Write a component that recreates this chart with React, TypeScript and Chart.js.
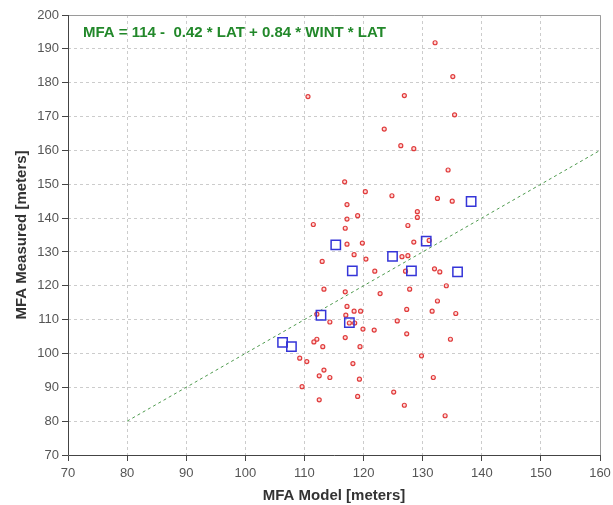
import React, { useEffect, useRef } from "react";
import { Chart, registerables } from "chart.js";

Chart.register(...registerables);

const redX = [132.1, 135.1, 110.6, 126.9, 135.4, 123.5, 126.3, 128.5, 134.3, 116.8, 120.3, 124.8, 132.5, 135.0, 117.2, 129.1, 129.1, 117.2, 119.0, 111.5, 127.5, 116.9, 117.2, 119.8, 128.5, 131.1, 118.4, 126.5, 127.5, 113.0, 120.4, 121.9, 127.1, 132.0, 132.9, 134.0, 113.3, 127.8, 116.9, 122.8, 132.5, 117.2, 127.3, 118.4, 119.5, 131.6, 135.6, 112.1, 117.0, 114.3, 117.6, 118.5, 125.7, 119.9, 121.8, 127.3, 116.9, 112.1, 111.6, 134.7, 113.1, 119.4, 129.8, 109.2, 110.4, 118.2, 113.3, 112.5, 114.3, 131.8, 119.3, 109.6, 125.1, 119.0, 112.5, 126.9, 133.8];
const redY = [191.8, 181.8, 175.9, 176.2, 170.5, 166.3, 161.4, 160.5, 154.2, 150.7, 147.8, 146.6, 145.8, 145.0, 144.0, 141.9, 140.2, 139.7, 140.7, 138.1, 137.8, 137.0, 132.3, 132.6, 132.9, 133.4, 129.2, 128.6, 128.9, 127.2, 127.9, 124.3, 124.3, 125.0, 124.1, 120.0, 119.0, 119.0, 118.2, 117.7, 115.5, 113.9, 113.0, 112.5, 112.5, 112.5, 111.8, 111.6, 111.3, 109.3, 109.0, 109.0, 109.6, 107.2, 106.9, 105.8, 104.7, 104.2, 103.4, 104.2, 102.0, 102.0, 99.3, 98.6, 97.6, 97.0, 95.1, 93.4, 92.9, 92.9, 92.4, 90.2, 88.6, 87.3, 86.3, 84.7, 81.6];

const blueX = [138.2, 130.6, 115.3, 124.9, 118.1, 128.1, 135.9, 112.8, 117.6, 106.3, 107.8];
const blueY = [144.9, 133.2, 132.1, 128.7, 124.4, 124.4, 124.1, 111.3, 109.1, 103.3, 102.0];

const lineX = [80, 160];
const lineY = [80, 160];

const equationText = "MFA = 114 -  0.42 * LAT + 0.84 * WINT * LAT";
const xTitle = "MFA Model [meters]";
const yTitle = "MFA Measured [meters]";

const FONT = "'Liberation Sans', Arial, sans-serif";

export default function App() {
  const ref = useRef<HTMLCanvasElement | null>(null);

  useEffect(() => {
    if (!ref.current) return;
    const framePlugin = {
      id: "frame",
      afterDraw(chart: any) {
        const { ctx, chartArea } = chart;
        const { left, right, top, bottom } = chartArea;
        ctx.save();
        ctx.setLineDash([]);
        ctx.lineWidth = 1;
        ctx.strokeStyle = "#9a9a9a";
        ctx.beginPath();
        ctx.moveTo(left, top + 0.5);
        ctx.lineTo(right + 0.5, top + 0.5);
        ctx.lineTo(right + 0.5, bottom);
        ctx.stroke();
        ctx.strokeStyle = "#444444";
        ctx.beginPath();
        ctx.moveTo(left + 0.5, top);
        ctx.lineTo(left + 0.5, bottom + 0.5);
        ctx.lineTo(right + 0.5, bottom + 0.5);
        ctx.stroke();
        ctx.fillStyle = "#22882a";
        ctx.font = `bold 15px ${FONT}`;
        ctx.textBaseline = "middle";
        ctx.textAlign = "left";
        ctx.fillText(equationText, left + 15, top + 18);
        ctx.restore();
      },
    };

    const chart = new Chart(ref.current, {
      type: "scatter",
      data: {
        datasets: [
          {
            label: "line",
            type: "line",
            data: lineX.map((x, i) => ({ x, y: lineY[i] })),
            borderColor: "#4e9a4e",
            borderWidth: 1,
            borderDash: [3, 3],
            pointRadius: 0,
            fill: false,
            order: 3,
          } as any,
          {
            label: "red",
            data: redX.map((x, i) => ({ x, y: redY[i] })),
            pointStyle: "circle",
            pointRadius: 2,
            borderWidth: 1.2,
            borderColor: "#e03c3c",
            backgroundColor: "rgba(255,190,190,0.6)",
            order: 2,
          },
          {
            label: "blue",
            data: blueX.map((x, i) => ({ x, y: blueY[i] })),
            pointStyle: "rect",
            pointRadius: 6.6,
            borderWidth: 1.5,
            borderColor: "#3535d8",
            backgroundColor: "rgba(0,0,0,0)",
            order: 1,
          },
        ],
      },
      options: {
        animation: false,
        responsive: false,
        maintainAspectRatio: false,
        layout: { padding: { left: 0, right: 13, top: 15, bottom: 0 } },
        plugins: {
          legend: { display: false },
          tooltip: { enabled: false },
        },
        scales: {
          x: {
            type: "linear",
            min: 70,
            max: 160,
            ticks: {
              stepSize: 10,
              color: "#555555",
              font: { family: FONT, size: 13 },
              padding: 5,
            },
            grid: {
              color: "#cccccc",
              lineWidth: 1,
              tickColor: "#444444",
              tickLength: 6,
              tickBorderDash: [],
            },
            border: { display: false, dash: [3, 3] },
            title: {
              display: true,
              text: xTitle,
              color: "#333333",
              font: { family: FONT, size: 15, weight: "bold" },
              padding: { top: 0, bottom: 0 },
            },
            afterFit(scale: any) {
              scale.height = 50;
              scale.paddingLeft = 0;
              scale.paddingRight = 0;
            },
          },
          y: {
            type: "linear",
            min: 70,
            max: 200,
            ticks: {
              stepSize: 10,
              color: "#555555",
              font: { family: FONT, size: 13 },
              padding: 3,
            },
            grid: {
              color: "#cccccc",
              lineWidth: 1,
              tickColor: "#444444",
              tickLength: 6,
              tickBorderDash: [],
            },
            border: { display: false, dash: [3, 3] },
            title: {
              display: true,
              text: yTitle,
              color: "#333333",
              font: { family: FONT, size: 15, weight: "bold" },
              padding: { top: 13, bottom: 0 },
            },
            afterFit(scale: any) {
              scale.width = 68;
              scale.paddingTop = 0;
              scale.paddingBottom = 0;
            },
          },
        },
      } as any,
      plugins: [framePlugin],
    });
    return () => chart.destroy();
  }, []);

  return (
    <div style={{ position: "fixed", left: 0, top: 0, width: 613, height: 505, background: "#fff" }}>
      <canvas ref={ref} width={613} height={505} style={{ width: 613, height: 505 }} />
    </div>
  );
}
